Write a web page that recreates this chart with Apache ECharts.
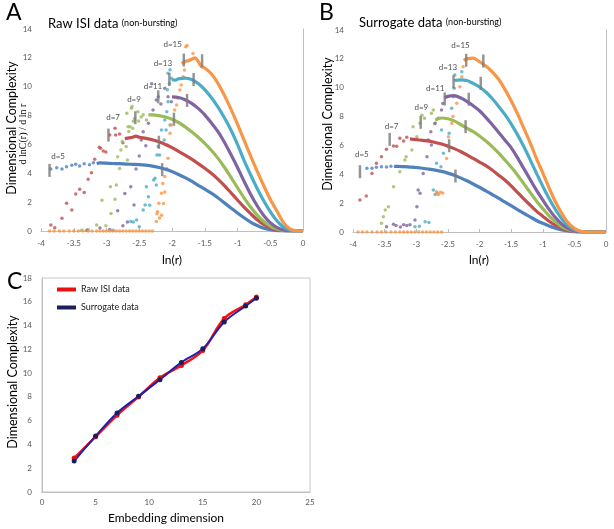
<!DOCTYPE html>
<html><head><meta charset="utf-8">
<script src="https://cdn.jsdelivr.net/npm/echarts@6/dist/echarts.min.js"></script>
<style>html,body{margin:0;padding:0;background:#fff}#c{width:614px;height:529px}</style>
</head><body><div id="c"></div>
<script>
// ---------- Panel A (raw ISI data) : sparse points and dense curves ----------
const aSparse5 = [[-3.85,4.3],[-3.76,4.39],[-3.68,4.3],[-3.61,4.46],[-3.53,4.55],[-3.47,4.62],[-3.41,4.5],[-3.34,4.66],[-3.26,4.6],[-3.2,4.73]];
const aCurve5 = [[-3.15,4.68],[-3.1,4.72],[-3.0,4.7],[-2.9,4.68],[-2.8,4.67],[-2.7,4.64],[-2.6,4.62],[-2.5,4.6],[-2.4,4.56],[-2.3,4.5],[-2.2,4.4],[-2.1,4.28],[-2.0,4.12],[-1.9,3.92],[-1.8,3.7],[-1.7,3.45],[-1.6,3.17],[-1.5,2.9],[-1.4,2.62],[-1.3,2.3],[-1.2,1.95],[-1.1,1.6],[-1.0,1.25],[-0.9,0.92],[-0.8,0.62],[-0.7,0.38],[-0.6,0.2],[-0.5,0.09],[-0.4,0.03],[-0.3,0.01],[-0.2,0],[-0.1,0],[0,0]];
const aSparse7 = [[-3.85,0.41],[-3.79,0.23],[-3.68,0.88],[-3.61,1.92],[-3.53,1.46],[-3.47,2.56],[-3.41,2.89],[-3.34,2.66],[-3.28,3.58],[-3.23,4.04],[-3.18,4.97],[-3.11,5.8],[-3.09,5.73],[-3.05,5.55],[-3.01,5.47],[-2.95,6.65],[-2.87,7.12],[-2.86,6.65],[-2.8,6.72],[-2.75,6.12]];
const aCurve7 = [[-2.72,6.4],[-2.65,6.45],[-2.6,6.5],[-2.55,6.58],[-2.5,6.5],[-2.4,6.42],[-2.3,6.32],[-2.2,6.18],[-2.1,6.0],[-2.0,5.78],[-1.9,5.52],[-1.8,5.26],[-1.7,4.98],[-1.6,4.67],[-1.5,4.35],[-1.4,4.0],[-1.3,3.6],[-1.2,3.15],[-1.1,2.65],[-1.0,2.15],[-0.9,1.65],[-0.8,1.2],[-0.7,0.78],[-0.6,0.45],[-0.5,0.22],[-0.4,0.08],[-0.3,0.02],[-0.2,0],[-0.1,0],[0,0]];
const aSparse9 = [[-3.38,0.05],[-3.28,0.1],[-3.15,0.41],[-3.07,2.13],[-3.01,0.37],[-2.93,1.22],[-2.94,3.06],[-2.87,2.2],[-2.85,3.19],[-2.8,4.34],[-2.83,5.15],[-2.78,5.61],[-2.76,6.2],[-2.7,5.85],[-2.68,4.92],[-2.67,7.23],[-2.66,6.9],[-2.69,8.16],[-2.64,7.23],[-2.62,8.5],[-2.61,8.63],[-2.6,7.12],[-2.59,7.6],[-2.57,7.8],[-2.52,8.27],[-2.51,7.63],[-2.47,7.9],[-2.44,8.05],[-2.39,7.7]];
const aCurve9 = [[-2.36,8.05],[-2.3,8.05],[-2.2,8.0],[-2.1,7.9],[-2.0,7.75],[-1.9,7.52],[-1.8,7.22],[-1.7,6.88],[-1.6,6.5],[-1.5,6.08],[-1.4,5.6],[-1.3,5.05],[-1.2,4.42],[-1.1,3.72],[-1.0,3.0],[-0.9,2.3],[-0.8,1.66],[-0.7,1.1],[-0.6,0.66],[-0.5,0.34],[-0.4,0.14],[-0.3,0.04],[-0.2,0],[-0.1,0],[0,0]];
const aSparse11 = [[-3.3,0.05],[-3.1,0.2],[-2.95,0.1],[-2.83,1.4],[-2.75,0.37],[-2.72,2.6],[-2.68,0.63],[-2.63,3.06],[-2.58,1.8],[-2.55,4.3],[-2.5,5.2],[-2.47,6.31],[-2.44,6.88],[-2.4,5.9],[-2.36,7.46],[-2.31,10.2],[-2.29,8.39],[-2.24,9.08],[-2.21,9.31],[-2.17,8.8],[-2.11,9.89],[-2.06,9.31],[-2.01,8.96]];
const aCurve11 = [[-2.0,9.3],[-1.9,9.25],[-1.8,9.1],[-1.7,8.85],[-1.6,8.5],[-1.5,8.05],[-1.4,7.5],[-1.3,6.9],[-1.2,6.15],[-1.1,5.3],[-1.0,4.4],[-0.9,3.45],[-0.8,2.55],[-0.7,1.75],[-0.6,1.08],[-0.5,0.58],[-0.4,0.25],[-0.3,0.08],[-0.2,0.01],[-0.1,0],[0,0]];
const aSparse13 = [[-2.9,0.05],[-2.63,0.65],[-2.59,0.63],[-2.54,0.76],[-2.5,0.3],[-2.44,1.46],[-2.41,1.8],[-2.39,3.07],[-2.36,2.38],[-2.34,1.79],[-2.28,3.53],[-2.26,3.65],[-2.24,3.19],[-2.23,5.27],[-2.21,5.85],[-2.19,5.27],[-2.16,7.0],[-2.12,6.31],[-2.11,7.69],[-2.09,7.0],[-2.08,8.27],[-2.07,9.79],[-2.06,8.96],[-2.04,10.23],[-2.06,10.93],[-2.03,7.35],[-2.03,11.18],[-2.01,10.58]];
const aCurve13 = [[-2.0,10.5],[-1.95,10.45],[-1.9,10.55],[-1.8,10.6],[-1.7,10.5],[-1.6,10.22],[-1.5,9.8],[-1.4,9.25],[-1.3,8.6],[-1.2,7.85],[-1.1,7.0],[-1.0,6.0],[-0.9,4.9],[-0.8,3.9],[-0.7,2.95],[-0.6,2.1],[-0.5,1.35],[-0.4,0.72],[-0.3,0.28],[-0.2,0.06],[-0.1,0.01],[0,0]];
const aZero15 = [-3.87,-3.8,-3.72,-3.65,-3.57,-3.5,-3.43,-3.36,-3.28,-3.22,-3.15,-3.1,-3.05,-3.0,-2.95,-2.9,-2.85,-2.8,-2.75,-2.7,-2.65,-2.6,-2.55,-2.5,-2.45,-2.4,-2.35,-2.3];
const aSparse15 = [[-2.24,0.65],[-2.23,1.2],[-2.22,1.34],[-2.2,1.92],[-2.19,0.9],[-2.16,2.61],[-2.16,1.1],[-2.13,1.9],[-2.14,3.3],[-2.11,2.7],[-2.11,3.77],[-2.08,4.34],[-2.06,5.04],[-2.07,5.96],[-2.03,6.77],[-2.01,7.35],[-1.96,8.39],[-1.93,8.73],[-1.91,9.2],[-1.88,9.77],[-1.86,10.12],[-1.83,10.69],[-1.81,11.16],[-1.79,12.77],[-1.77,12.85],[-1.68,12.31]];
const aCurve15 = [[-1.85,11.6],[-1.8,11.75],[-1.75,11.8],[-1.7,11.9],[-1.65,12.0],[-1.6,11.75],[-1.55,11.4],[-1.5,11.3],[-1.4,10.9],[-1.3,10.25],[-1.2,9.4],[-1.1,8.45],[-1.0,7.4],[-0.9,6.3],[-0.8,5.2],[-0.7,4.15],[-0.6,3.15],[-0.5,2.2],[-0.4,1.4],[-0.3,0.6],[-0.2,0.15],[-0.1,0.02],[0,0]];
const aMarkers = [[-3.87,4.2],[-2.15,4.25],[-2.97,6.65],[-2.2,6.15],[-2.56,7.85],[-1.97,7.75],[-2.21,9.3],[-1.77,9.05],[-2.04,10.5],[-1.67,10.5],[-1.82,11.85],[-1.54,11.8]];
const aLabelPos = [[-3.74,5.2],[-2.9,7.9],[-2.58,9.15],[-2.29,10.05],[-2.14,11.64],[-1.99,12.96]];

// ---------- Panel B (surrogate data) ----------
const bSparse5 = [[-3.78,4.41],[-3.7,4.41],[-3.63,4.48],[-3.55,4.53],[-3.47,4.5],[-3.4,4.55]];
const bCurve5 = [[-3.35,4.55],[-3.3,4.55],[-3.2,4.53],[-3.1,4.5],[-3.0,4.47],[-2.9,4.42],[-2.8,4.36],[-2.7,4.29],[-2.6,4.2],[-2.5,4.08],[-2.4,3.93],[-2.3,3.75],[-2.2,3.55],[-2.1,3.33],[-2.0,3.1],[-1.9,2.85],[-1.8,2.6],[-1.7,2.35],[-1.6,2.08],[-1.5,1.82],[-1.4,1.55],[-1.3,1.3],[-1.2,1.05],[-1.1,0.8],[-1.0,0.6],[-0.9,0.42],[-0.8,0.27],[-0.7,0.15],[-0.6,0.07],[-0.5,0.02],[-0.4,0],[-0.2,0],[0,0]];
const bSparse7 = [[-3.89,2.22],[-3.79,2.49],[-3.7,4.06],[-3.63,4.76],[-3.55,5.22],[-3.47,5.73],[-3.36,5.96],[-3.31,5.95],[-3.26,6.49],[-3.2,6.3],[-3.15,6.56]];
const bCurve7 = [[-3.1,6.45],[-3.0,6.4],[-2.9,6.35],[-2.8,6.3],[-2.7,6.2],[-2.6,6.1],[-2.5,5.95],[-2.4,5.78],[-2.3,5.58],[-2.2,5.35],[-2.1,5.1],[-2.0,4.85],[-1.9,4.6],[-1.8,4.3],[-1.7,3.95],[-1.6,3.6],[-1.5,3.2],[-1.4,2.75],[-1.3,2.3],[-1.2,1.87],[-1.1,1.45],[-1.0,1.1],[-0.9,0.75],[-0.8,0.47],[-0.7,0.25],[-0.6,0.11],[-0.5,0.03],[-0.4,0],[-0.2,0],[0,0]];
const bSparse9 = [[-3.55,0.6],[-3.52,1.06],[-3.49,1.52],[-3.44,1.75],[-3.36,3.14],[-3.26,4.18],[-3.18,4.99],[-3.16,5.22],[-3.07,5.68],[-3.05,7.3],[-2.99,6.6],[-2.94,7.53],[-2.91,8.1],[-2.87,7.88],[-2.76,8.23],[-2.73,8.45],[-2.71,7.5]];
const bCurve9 = [[-2.7,7.76],[-2.6,7.9],[-2.5,7.85],[-2.4,7.7],[-2.3,7.45],[-2.2,7.2],[-2.1,6.95],[-2.0,6.65],[-1.9,6.3],[-1.8,5.92],[-1.7,5.48],[-1.6,5.0],[-1.5,4.5],[-1.4,3.95],[-1.3,3.35],[-1.2,2.75],[-1.1,2.15],[-1.0,1.62],[-0.9,1.12],[-0.8,0.7],[-0.7,0.38],[-0.6,0.17],[-0.5,0.05],[-0.4,0],[-0.2,0],[0,0]];
const bSparse11 = [[-3.47,0.37],[-3.36,0.53],[-3.32,0.45],[-3.25,0.35],[-3.2,0.5],[-3.15,0.45],[-3.1,0.5],[-3.02,0.83],[-2.99,1.75],[-2.97,2.91],[-2.94,2.68],[-2.89,4.06],[-2.83,5.22],[-2.81,6.38],[-2.77,6.95],[-2.76,6.03],[-2.7,7.53],[-2.65,7.88],[-2.6,8.45],[-2.58,8.9]];
const bCurve11 = [[-2.55,9.3],[-2.5,9.4],[-2.4,9.45],[-2.3,9.3],[-2.2,9.05],[-2.1,8.75],[-2.0,8.4],[-1.9,7.95],[-1.8,7.45],[-1.7,6.92],[-1.6,6.38],[-1.5,5.85],[-1.4,5.15],[-1.3,4.4],[-1.2,3.65],[-1.1,2.9],[-1.0,2.22],[-0.9,1.57],[-0.8,1.0],[-0.7,0.55],[-0.6,0.25],[-0.5,0.08],[-0.4,0.01],[-0.3,0],[0,0]];
const bSparse13 = [[-3.02,0.37],[-2.95,0.4],[-2.86,0.71],[-2.8,0.65],[-2.73,2.91],[-2.7,2.6],[-2.68,4.76],[-2.61,4.53],[-2.6,7.07],[-2.57,5.45],[-2.48,6.84],[-2.44,8.57],[-2.41,9.38],[-2.4,9.96],[-2.39,10.88],[-2.28,11.11]];
const bCurve13 = [[-2.4,10.5],[-2.3,10.55],[-2.2,10.5],[-2.1,10.3],[-2.0,10.05],[-1.9,9.7],[-1.8,9.25],[-1.7,8.72],[-1.6,8.15],[-1.5,7.5],[-1.4,6.75],[-1.3,5.92],[-1.2,5.02],[-1.1,4.08],[-1.0,3.18],[-0.9,2.32],[-0.8,1.56],[-0.7,0.92],[-0.6,0.44],[-0.5,0.15],[-0.4,0.03],[-0.3,0],[0,0]];
const bZero15 = [-3.92,-3.85,-3.78,-3.7,-3.62,-3.55,-3.48,-3.4,-3.33,-3.26,-3.2,-3.14,-3.08,-3.02,-2.96,-2.9,-2.84,-2.78,-2.72,-2.66,-2.6];
const bSparse15 = [[-2.68,2.79],[-2.67,2.68],[-2.65,2.6],[-2.62,2.75],[-2.58,2.7],[-2.52,5.1],[-2.5,6.0],[-2.49,6.6],[-2.44,7.53],[-2.42,8.0],[-2.36,8.92],[-2.31,10.07],[-2.28,10.76],[-2.26,11.46]];
const bCurve15 = [[-2.25,11.9],[-2.2,12.0],[-2.1,12.05],[-2.0,11.8],[-1.9,11.5],[-1.8,11.1],[-1.7,10.6],[-1.6,9.9],[-1.5,9.1],[-1.4,8.2],[-1.3,7.2],[-1.2,6.2],[-1.1,5.1],[-1.0,4.1],[-0.9,3.05],[-0.8,2.1],[-0.7,1.3],[-0.6,0.65],[-0.5,0.25],[-0.4,0.05],[-0.3,0],[-0.2,0],[-0.1,0],[0,0]];
const bMarkers = [[-3.89,4.18],[-2.38,3.88],[-3.42,6.42],[-2.48,5.98],[-2.93,7.6],[-2.22,7.3],[-2.55,9.22],[-2.17,9.2],[-2.41,10.42],[-1.98,10.3],[-2.21,11.9],[-1.94,11.85]];
const bLabelPos = [[-3.86,5.4],[-3.39,7.35],[-2.92,8.6],[-2.7,9.93],[-2.5,11.4],[-2.3,12.9]];

const dimLabels = ['d=5','d=7','d=9','d=11','d=13','d=15'];

// ---------- Panel C ----------
const embedDim = [3,5,7,9,11,13,15,17,19,20];
const rawISI = [2.85,4.65,6.45,8.0,9.6,10.65,11.9,14.6,15.75,16.4];
const surrogate = [2.6,4.7,6.65,8.05,9.45,10.9,12.05,14.3,15.65,16.3];

// ---------- styling ----------
const colors = ['#4F81BD','#C0504D','#9BBB59','#8064A2','#4BACC6','#F79646'];
const FONT = 'Lato';
const tickText = {fontFamily: FONT, fontSize: 8, color: '#595959'};
const axisLineStyle = {lineStyle: {color: '#BFBFBF', width: 1}};

function panelSeries(idx, sparse, curves, zeros, markers, labelPos) {
  const out = [];
  for (let i = 0; i < 6; i++) {
    let pts = sparse[i].slice();
    if (i === 5) pts = zeros.map(x => [x, 0]).concat(pts);
    out.push({type: 'scatter', xAxisIndex: idx, yAxisIndex: idx, data: pts,
      symbol: 'circle', symbolSize: 3.5, itemStyle: {color: colors[i]}, silent: true});
    out.push({type: 'line', xAxisIndex: idx, yAxisIndex: idx, data: curves[i],
      showSymbol: false, smooth: 0.3, lineStyle: {color: colors[i], width: 3.2}, silent: true});
  }
  out.push({type: 'scatter', xAxisIndex: idx, yAxisIndex: idx, data: markers,
    symbol: 'rect', symbolSize: [2.5, 13], itemStyle: {color: '#7A7A7A'}, z: 5, silent: true});
  out.push({type: 'scatter', xAxisIndex: idx, yAxisIndex: idx, symbolSize: 0, z: 6, silent: true,
    data: labelPos.map((p, k) => ({value: p, name: dimLabels[k]})),
    label: {show: true, position: 'inside', formatter: '{b}', fontFamily: FONT, fontSize: 8, color: '#222'}});
  return out;
}

const valAxisX = (idx) => ({type: 'value', gridIndex: idx, min: -4, max: 0, interval: 0.5,
  axisLine: {show: true, ...axisLineStyle}, axisTick: {show: true, inside: true, length: 3, lineStyle: {color: '#BFBFBF'}},
  splitLine: {show: false}, axisLabel: {...tickText, margin: 8}});
const valAxisY = (idx) => ({type: 'value', gridIndex: idx, min: 0, max: 14, interval: 2,
  axisLine: {show: true, ...axisLineStyle}, axisTick: {show: false},
  splitLine: {show: false}, axisLabel: {...tickText, margin: 9}});

const option = {
  animation: false,
  backgroundColor: '#fff',
  grid: [
    {left: 41, top: 29, width: 262, height: 202},
    {left: 353, top: 30, width: 253, height: 202},
    {left: 42, top: 278, width: 268, height: 214, show: true, borderColor: '#C8C8C8', borderWidth: 1, backgroundColor: 'transparent'}
  ],
  xAxis: [valAxisX(0), valAxisX(1),
    {type: 'value', gridIndex: 2, min: 0, max: 25, interval: 5, axisLine: {show: true, ...axisLineStyle},
     axisTick: {show: false}, splitLine: {show: false}, axisLabel: {...tickText, margin: 6}}],
  yAxis: [valAxisY(0), valAxisY(1),
    {type: 'value', gridIndex: 2, min: 0, max: 18, interval: 2, axisLine: {show: true, ...axisLineStyle},
     axisTick: {show: false}, splitLine: {show: false}, axisLabel: {...tickText, margin: 10}}],
  legend: {data: ['Raw ISI data', 'Surrogate data'], left: 52, top: 280, orient: 'vertical',
    icon: 'rect', itemWidth: 19, itemHeight: 4, itemGap: 9,
    textStyle: {fontFamily: FONT, fontSize: 9, color: '#222'}},
  series: [
    ...panelSeries(0, [aSparse5, aSparse7, aSparse9, aSparse11, aSparse13, aSparse15],
      [aCurve5, aCurve7, aCurve9, aCurve11, aCurve13, aCurve15], aZero15, aMarkers, aLabelPos),
    ...panelSeries(1, [bSparse5, bSparse7, bSparse9, bSparse11, bSparse13, bSparse15],
      [bCurve5, bCurve7, bCurve9, bCurve11, bCurve13, bCurve15], bZero15, bMarkers, bLabelPos),
    {name: 'Raw ISI data', type: 'line', xAxisIndex: 2, yAxisIndex: 2, smooth: 0.35,
      data: embedDim.map((d, i) => [d, rawISI[i]]), symbol: 'circle', symbolSize: 5,
      lineStyle: {color: '#FF1010', width: 2.5}, itemStyle: {color: '#E81010'}},
    {name: 'Surrogate data', type: 'line', xAxisIndex: 2, yAxisIndex: 2, smooth: 0.35,
      data: embedDim.map((d, i) => [d, surrogate[i]]), symbol: 'circle', symbolSize: 5,
      lineStyle: {color: '#1C22B0', width: 2}, itemStyle: {color: '#1A1F5C'}}
  ],
  graphic: [
    {type: 'text', left: 6, top: 1, style: {text: 'A', font: '23px Lato', fill: '#000'}},
    {type: 'text', left: 319, top: 1, style: {text: 'B', font: '23px Lato', fill: '#000'}},
    {type: 'text', left: 7, top: 270, style: {text: 'C', font: '23px Lato', fill: '#000'}},
    {type: 'text', left: 48, top: 17, style: {rich: {a: {fontFamily: FONT, fontSize: 13, fill: '#000'}, b: {fontFamily: FONT, fontSize: 9, fill: '#000'}}, text: '{a|Raw ISI data} {b|(non-bursting)}'}},
    {type: 'text', left: 359, top: 16, style: {rich: {a: {fontFamily: FONT, fontSize: 13, fill: '#000'}, b: {fontFamily: FONT, fontSize: 9, fill: '#000'}}, text: '{a|Surrogate data} {b|(non-bursting)}'}},
    {type: 'text', x: 12, y: 128, rotation: Math.PI / 2, style: {text: 'Dimensional Complexity', font: '12.5px Lato', fill: '#000', align: 'center', verticalAlign: 'middle'}},
    {type: 'text', x: 23, y: 134, rotation: Math.PI / 2, style: {text: 'd lnC(r) / d ln r', font: '10px "Liberation Serif"', fill: '#000', align: 'center', verticalAlign: 'middle'}},
    {type: 'text', x: 328, y: 124, rotation: Math.PI / 2, style: {text: 'Dimensional Complexity', font: '12.5px Lato', fill: '#000', align: 'center', verticalAlign: 'middle'}},
    {type: 'text', x: 172, y: 260, style: {text: 'ln(r)', font: '12px Lato', fill: '#000', align: 'center', verticalAlign: 'middle'}},
    {type: 'text', x: 479, y: 260, style: {text: 'ln(r)', font: '12px Lato', fill: '#000', align: 'center', verticalAlign: 'middle'}},
    {type: 'text', x: 166, y: 518, style: {text: 'Embedding dimension', font: '12px Lato', fill: '#000', align: 'center', verticalAlign: 'middle'}},
    {type: 'text', x: 13, y: 382, rotation: Math.PI / 2, style: {text: 'Dimensional Complexity', font: '12.5px Lato', fill: '#000', align: 'center', verticalAlign: 'middle'}}
  ]
};
const chart = echarts.init(document.getElementById('c'), null, {renderer: 'canvas'});
chart.setOption(option);
</script></body></html>
